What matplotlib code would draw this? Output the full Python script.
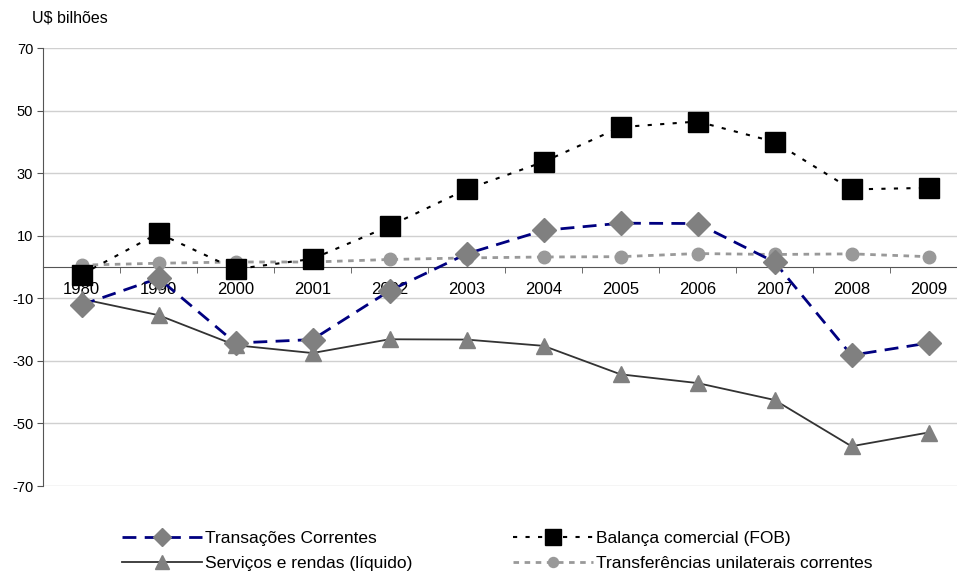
import matplotlib.pyplot as plt
import numpy as np

plt.rcParams['font.family'] = ['Liberation Sans', 'DejaVu Sans']

years = ['1980', '1990', '2000', '2001', '2002', '2003', '2004', '2005', '2006', '2007', '2008', '2009']
transacoes = [-12.1, -3.6, -24.3, -23.2, -7.6, 4.2, 11.7, 14.0, 13.9, 1.6, -28.2, -24.3]
balanca = [-2.4, 10.8, -0.7, 2.6, 13.1, 24.8, 33.6, 44.7, 46.5, 40.0, 24.8, 25.3]
servicos = [-10.2, -15.4, -25.0, -27.5, -23.1, -23.2, -25.2, -34.3, -37.1, -42.5, -57.3, -52.9]
transferencias = [0.6, 1.2, 1.6, 1.6, 2.4, 2.9, 3.2, 3.3, 4.3, 4.0, 4.2, 3.3]
yticks = [-70, -50, -30, -10, 10, 30, 50, 70]

fig = plt.figure(figsize=(9.57, 5.73), dpi=100)
# right edge of plot area lies past the figure edge, like the original
ax = fig.add_axes([43 / 957, 1 - 486 / 573, 924 / 957, 438 / 573])
x = np.arange(len(years))

l_serv, = ax.plot(x, servicos, color='#333333', lw=1.3, marker='^', ms=12,
                  mfc='#808080', mec='#808080', label='Serviços e rendas (líquido)', zorder=3)
l_transf, = ax.plot(x, transferencias, color='#999999', lw=2, ls=(0, (2, 2)), marker='o', ms=9,
                    mfc='#999999', mec='#999999', label='Transferências unilaterais correntes', zorder=3)
l_trans, = ax.plot(x, transacoes, color='#000080', lw=2, ls=(0, (5, 3)), marker='D', ms=12,
                   mfc='#808080', mec='#808080', label='Transações Correntes', zorder=4)
l_bal, = ax.plot(x, balanca, color='black', lw=1.5, ls=(0, (2, 4)), marker='s', ms=14,
                 mfc='black', mec='black', label='Balança comercial (FOB)', zorder=5)

ax.set_ylim(-70, 70)
ax.set_xlim(-0.5, 11.5)
ax.set_yticks(yticks)
ax.set_yticklabels([str(v) for v in yticks], fontsize=10.5)
ax.yaxis.grid(True, color='#d0d0d0', lw=1)
ax.set_axisbelow(True)
ax.tick_params(axis='y', length=4, color='#555555', pad=3)

ax.spines['top'].set_visible(False)
ax.spines['right'].set_visible(False)
ax.spines['left'].set_color('#555555')
ax.spines['bottom'].set_position(('data', 0))
ax.spines['bottom'].set_color('#555555')

ax.set_xticks(x)
ax.set_xticklabels(years, fontsize=12)
ax.set_xticks(np.arange(len(years) + 1) - 0.5, minor=True)
ax.tick_params(axis='x', which='major', length=0, pad=11)
ax.tick_params(axis='x', which='minor', length=4, color='#555555')

fig.text(32 / 957, 1 - 18 / 573, 'U$ bilhões', fontsize=11.5, va='center')

leg_kw = dict(loc='center left', frameon=False, fontsize=12.5, handlelength=4.6,
              handletextpad=0.2, labelspacing=0.6, markerscale=0.8, borderpad=0,
              borderaxespad=0)
fig.legend([l_trans, l_serv], [l_trans.get_label(), l_serv.get_label()],
           bbox_to_anchor=(122 / 957, 1 - 551 / 573), **leg_kw)
fig.legend([l_bal, l_transf], [l_bal.get_label(), l_transf.get_label()],
           bbox_to_anchor=(513 / 957, 1 - 551 / 573), **leg_kw)

fig.savefig('out.png', dpi=100)
